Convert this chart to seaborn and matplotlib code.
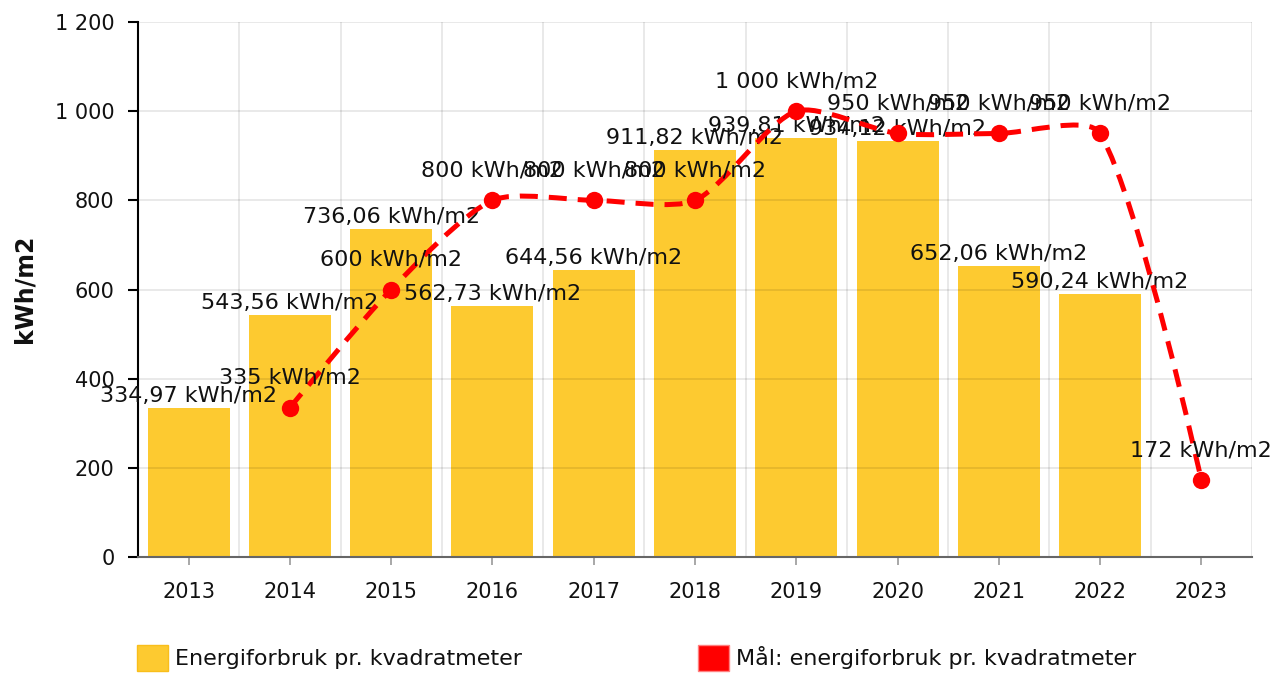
import numpy as np
import pandas as pd
import matplotlib
matplotlib.use("Agg")
import matplotlib.pyplot as plt
from matplotlib.path import Path
from matplotlib.patches import PathPatch, Patch
import seaborn as sns

years = ["2013", "2014", "2015", "2016", "2017", "2018", "2019", "2020", "2021", "2022", "2023"]
bar_years = ["2013", "2014", "2015", "2016", "2017", "2018", "2019", "2020", "2021", "2022"]
bar_values = [334.97, 543.56, 736.06, 562.73, 644.56, 911.82, 939.81, 934.12, 652.06, 590.24]
target_years = ["2014", "2015", "2016", "2017", "2018", "2019", "2020", "2021", "2022", "2023"]
target_values = [335, 600, 800, 800, 800, 1000, 950, 950, 950, 172]
y_ticks = [0, 200, 400, 600, 800, 1000, 1200]
bar_name = "Energiforbruk pr. kvadratmeter"
target_name = "Mål: energiforbruk pr. kvadratmeter"

BAR_COLOR = "#FDCA30"
LINE_COLOR = "#FF0000"
FS_TICK = 15
FS_LAB = 16
TXT = "#111111"

sns.set_theme(style="white")
plt.rcParams["font.family"] = ["DejaVu Sans"]

def fmt(v):
    if abs(v - round(v)) < 1e-9:
        s = f"{int(round(v)):,}".replace(",", " ")
    else:
        s = f"{v:,.2f}".replace(",", " ").replace(".", ",")
    return s

fig = plt.figure(figsize=(12.74, 6.73), dpi=100)
ax = fig.add_axes([138 / 1274, 116 / 673, 1114 / 1274, 535 / 673])

df = pd.DataFrame({"year": bar_years, "value": bar_values})
sns.barplot(data=df, x="year", y="value", order=years, color=BAR_COLOR,
            saturation=1, width=0.81, ax=ax, zorder=1, edgecolor="none")

ax.set_xlim(-0.5, len(years) - 0.5)
ax.set_ylim(0, 1200)
ax.set_yticks(y_ticks)
ax.set_yticklabels([fmt(v) for v in y_ticks], fontsize=FS_TICK)
ax.set_xticks(range(len(years)))
ax.set_xticklabels(years, fontsize=FS_TICK)
ax.set_xlabel("")
ax.set_ylabel("")
fig.text(25 / 1274, 1 - 289 / 673, "kWh/m2", rotation=90, ha="center", va="center",
         fontsize=17, fontweight="bold", color=TXT)

# grid (drawn over bars, semi-transparent)
for v in y_ticks[1:]:
    ax.axhline(v, color=(0, 0, 0, 0.1), lw=1.2, zorder=2)
for i in range(len(years)):
    ax.axvline(i + 0.5, color=(0, 0, 0, 0.1), lw=1.2, zorder=2)

for s in ["top", "right"]:
    ax.spines[s].set_visible(False)
ax.spines["left"].set_color("black")
ax.spines["left"].set_linewidth(1.5)
ax.spines["bottom"].set_color("#666666")
ax.spines["bottom"].set_linewidth(1.5)
ax.tick_params(axis="y", which="both", left=True, length=7, width=1.5, color="black", pad=10, labelcolor=TXT)
ax.tick_params(axis="x", which="both", bottom=True, length=6, width=1.2, color="#999999", pad=12, labelcolor=TXT)

# bar labels
for yr, v in zip(bar_years, bar_values):
    xi = years.index(yr)
    ax.annotate(f"{fmt(v)} kWh/m2", (xi, v), xytext=(0, 12), textcoords="offset pixels",
                ha="center", va="center", fontsize=FS_LAB, color=TXT, zorder=3)

# smoothed line path through the target points (smoothing computed in pixel space)
xs = [years.index(y) for y in target_years]
ys = list(target_values)
pts = ax.transData.transform(np.column_stack([xs, ys]))
n = len(pts)
sm = 0.25
verts = [tuple(pts[0])]
codes = [Path.MOVETO]
cp0 = pts[0].copy()
for k in range(1, n):
    cur = pts[k]
    prev = pts[k - 1]
    if k == n - 1:
        ncp = cur.copy()
        v = np.zeros(2)
        r = 0.5
    else:
        nxt = pts[k + 1]
        v = nxt - prev
        l0 = np.hypot(*(cur - prev))
        l1 = np.hypot(*(nxt - cur))
        r = l1 / (l0 + l1)
        ncp = cur - v * sm * (1 - r)
    verts += [tuple(cp0), tuple(ncp), tuple(cur)]
    codes += [Path.CURVE4] * 3
    cp0 = cur + v * sm * r
verts_data = ax.transData.inverted().transform(np.array(verts))

patch = PathPatch(Path(verts_data, codes), facecolor="none", edgecolor=LINE_COLOR,
                  lw=3.6, linestyle=(0, (3.6, 2.2)), capstyle="butt", zorder=4)
ax.add_patch(patch)
ax.plot(xs, ys, linestyle="none", marker="o", markersize=12.5, color=LINE_COLOR,
        markeredgewidth=0, zorder=5)

for xi, v in zip(xs, ys):
    ax.annotate(f"{fmt(v)} kWh/m2", (xi, v), xytext=(0, 30), textcoords="offset pixels",
                ha="center", va="center", fontsize=FS_LAB, color=TXT, zorder=6)

handles = [Patch(facecolor=BAR_COLOR, edgecolor="#F9BE1B", linewidth=1.0, label=bar_name),
           Patch(facecolor=LINE_COLOR, edgecolor="#FF8080", linewidth=1.0, label=target_name)]
fig.legend(handles=handles, loc="center left", bbox_to_anchor=(137 / 1274, 15 / 673),
           ncol=2, frameon=False, fontsize=FS_LAB, handlelength=1.4, handleheight=1.4,
           handletextpad=0.32, columnspacing=7.9, borderpad=0, borderaxespad=0,
           labelcolor=TXT)

fig.savefig("out.png", dpi=100)
